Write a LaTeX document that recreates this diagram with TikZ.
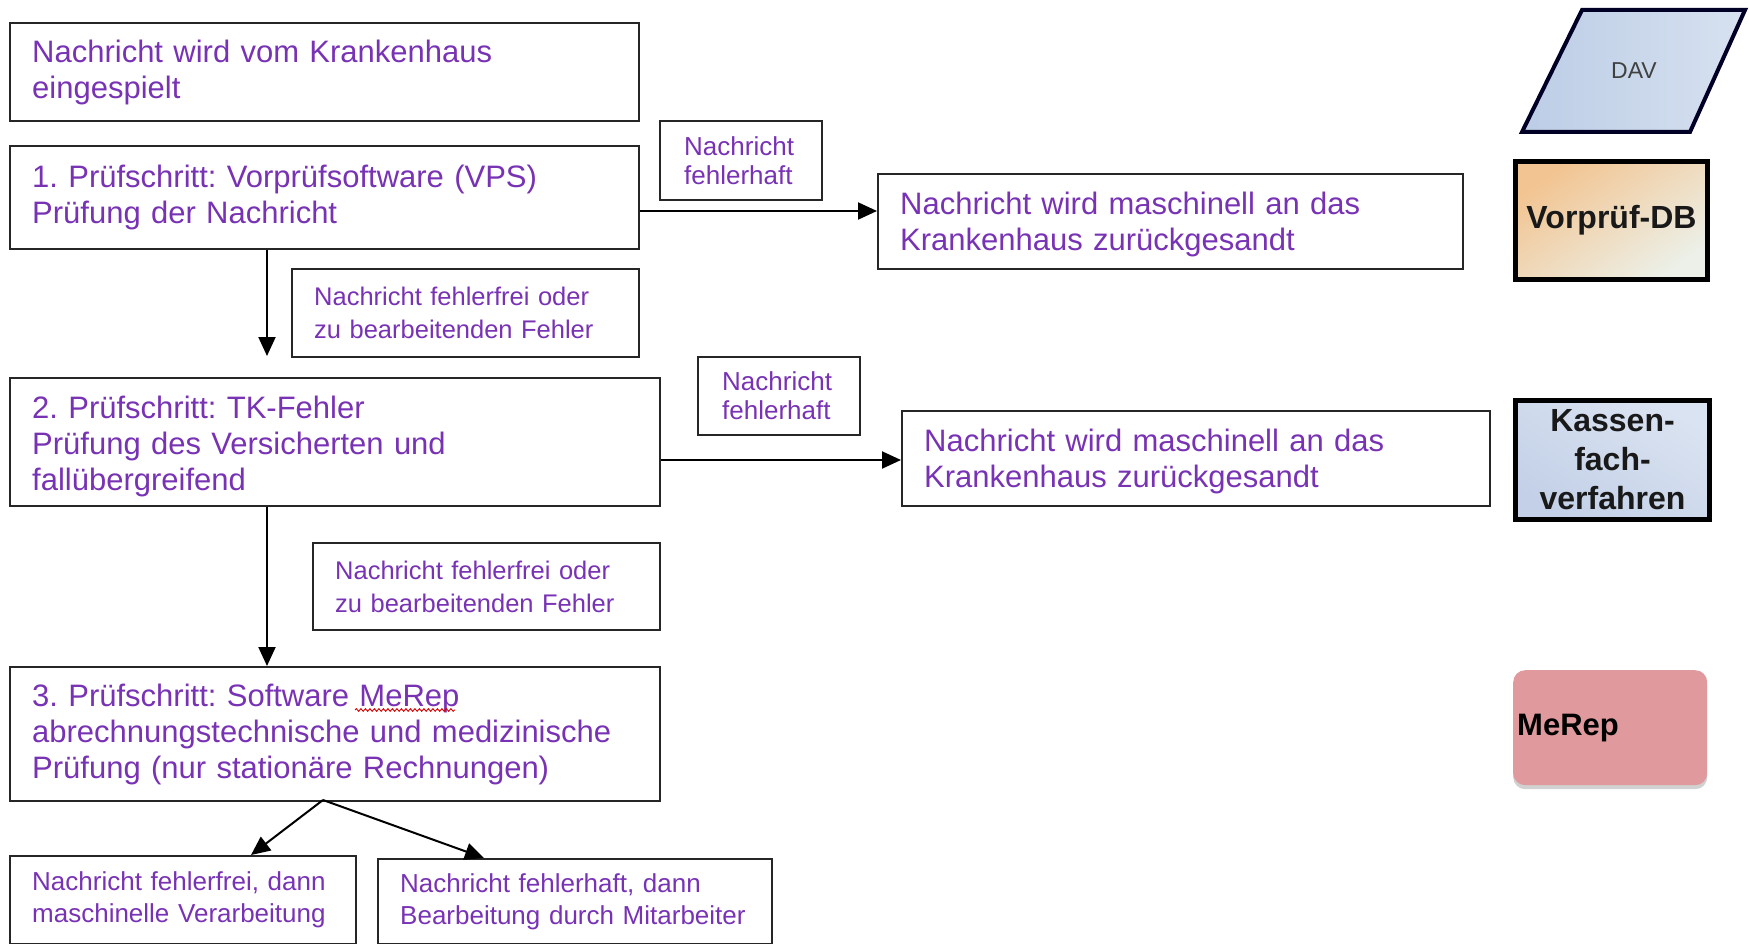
\documentclass[tikz,border=0pt]{standalone}
\usepackage{fontspec}
\setmainfont{Liberation Sans}
\usetikzlibrary{arrows.meta,decorations.pathmorphing,shadows}
\definecolor{txt}{RGB}{120,50,180}
\definecolor{davA}{RGB}{188,205,230}
\definecolor{davB}{RGB}{215,225,240}
\definecolor{vpA}{RGB}{242,196,145}
\definecolor{vpB}{RGB}{236,240,232}
\definecolor{kfA}{RGB}{218,227,241}
\definecolor{kfB}{RGB}{195,208,231}
\definecolor{mrep}{RGB}{224,154,158}
\frenchspacing
\begin{document}
\begin{tikzpicture}[x=1pt,y=-1pt,
  box/.style={draw=black!85, line width=2.4pt, anchor=north west, inner xsep=22pt, inner ysep=0pt,
    align=left, text=txt, font=\fontsize{31}{36}\selectfont\frenchspacing},
  lbl/.style={box, font=\fontsize{25.5}{33}\selectfont},
  lblh/.style={box, inner xsep=24pt, font=\fontsize{26}{29}\selectfont},
  lblb/.style={box, font=\fontsize{26}{32}\selectfont},
  side/.style={draw=black, line width=5pt, anchor=north west, inner sep=0pt, align=center,
    font=\fontsize{32}{39}\selectfont\bfseries, text=black!90},
  arr/.style={draw=black, line width=2pt, -{Triangle[length=19pt,width=17pt]}}
]
\useasboundingbox (0,0) rectangle (1749,944);

% main boxes
\node[box, minimum width=629pt, minimum height=98pt, text width=585pt] (a) at (9,22)
  {Nachricht wird vom Krankenhaus\\eingespielt};
\node[box, minimum width=629pt, minimum height=103pt, text width=585pt] (p1) at (9,145)
  {1. Prüfschritt: Vorprüfsoftware (VPS)\\Prüfung der Nachricht};
\node[box, minimum width=650pt, minimum height=128pt, text width=606pt] (p2) at (9,377)
  {\rule{0pt}{31pt}2. Prüfschritt: TK-Fehler\\Prüfung des Versicherten und\\fallübergreifend};
\node[box, minimum width=650pt, minimum height=134pt, text width=606pt] (p3) at (9,666)
  {3. Prüfschritt: Software MeRep\\abrechnungstechnische und medizinische\\Prüfung (nur stationäre Rechnungen)};

% return boxes
\node[box, minimum width=585pt, minimum height=95pt, text width=541pt] (r1) at (877,173)
  {\rule{0pt}{29pt}Nachricht wird maschinell an das\\Krankenhaus zurückgesandt};
\node[box, minimum width=588pt, minimum height=95pt, text width=544pt] (r2) at (901,410)
  {\rule{0pt}{29pt}Nachricht wird maschinell an das\\Krankenhaus zurückgesandt};

% labels
\node[lblh, minimum width=162pt, minimum height=79pt, text width=114pt] (f1) at (659,120)
  {Nachricht\\fehlerhaft};
\node[lblh, minimum width=162pt, minimum height=78pt, text width=114pt] (f2) at (697,356)
  {Nachricht\\fehlerhaft};
\node[lbl, minimum width=347pt, minimum height=88pt, text width=303pt] (ff1) at (291,268)
  {Nachricht fehlerfrei oder\\zu bearbeitenden Fehler};
\node[lbl, minimum width=347pt, minimum height=87pt, text width=303pt] (ff2) at (312,542)
  {Nachricht fehlerfrei oder\\zu bearbeitenden Fehler};

% bottom boxes
\node[lblb, minimum width=346pt, minimum height=88pt, text width=302pt] (b1) at (9,855)
  {Nachricht fehlerfrei, dann\\maschinelle Verarbeitung};
\node[lblb, minimum width=394pt, minimum height=85pt, text width=350pt] (b2) at (377,858)
  {Nachricht fehlerhaft, dann\\Bearbeitung durch Mitarbeiter};

% spell-check squiggle under MeRep
\draw[red!85!black, line width=0.9pt, decorate, decoration={snake, amplitude=1.3pt, segment length=4.5pt}]
  (355,710) -- (455,710);

% connectors
\coordinate (vx) at (267,0);
\coordinate (e1) at (267,356);
\coordinate (hy1) at (0,211);
\coordinate (hy2) at (0,460);
\coordinate (bs) at (323,800);
\coordinate (bl) at (251,0);
\coordinate (br) at (484,0);
\draw[arr] (p1.south -| vx) -- (e1);
\draw[arr] (p2.south -| vx) -- (p3.north -| vx);
\draw[arr] (p1.east |- hy1) -- (r1.west |- hy1);
\draw[arr] (p2.east |- hy2) -- (r2.west |- hy2);
\draw[arr] (bs) -- (b1.north -| bl);
\draw[arr] (bs) -- (b2.north -| br);

% right side legend
\coordinate (d1) at (1582,10);
\coordinate (d2) at (1745,10);
\coordinate (d3) at (1690,132);
\coordinate (d4) at (1522,132);
\shade[left color=davA, right color=davB] (d1) -- (d2) -- (d3) -- (d4) -- cycle;
\draw[line width=4pt, draw=black!85!blue, line join=miter] (d1) -- (d2) -- (d3) -- (d4) -- cycle;
\node[font=\fontsize{23}{28}\selectfont, text=black!75] (dav) at (1634,71) {DAV};

\node[side, minimum width=192pt, minimum height=118pt, top color=vpA, bottom color=vpB, shading angle=35] (vdb) at (1513,159)
  {Vorprüf-DB};
\node[side, minimum width=194pt, minimum height=119pt, top color=kfA, bottom color=kfB, shading angle=-30] (kfv) at (1513,398)
  {Kassen-\\fach-\\verfahren};
\node[anchor=north west, fill=mrep, rounded corners=12pt, minimum width=194pt, minimum height=115pt,
  inner xsep=4pt, text width=186pt, align=left, font=\fontsize{31}{36}\selectfont\bfseries,
  drop shadow={shadow xshift=0pt, shadow yshift=-4pt, fill=black!18, opacity=1}] (mr) at (1513,670)
  {MeRep};
\end{tikzpicture}
\end{document}
